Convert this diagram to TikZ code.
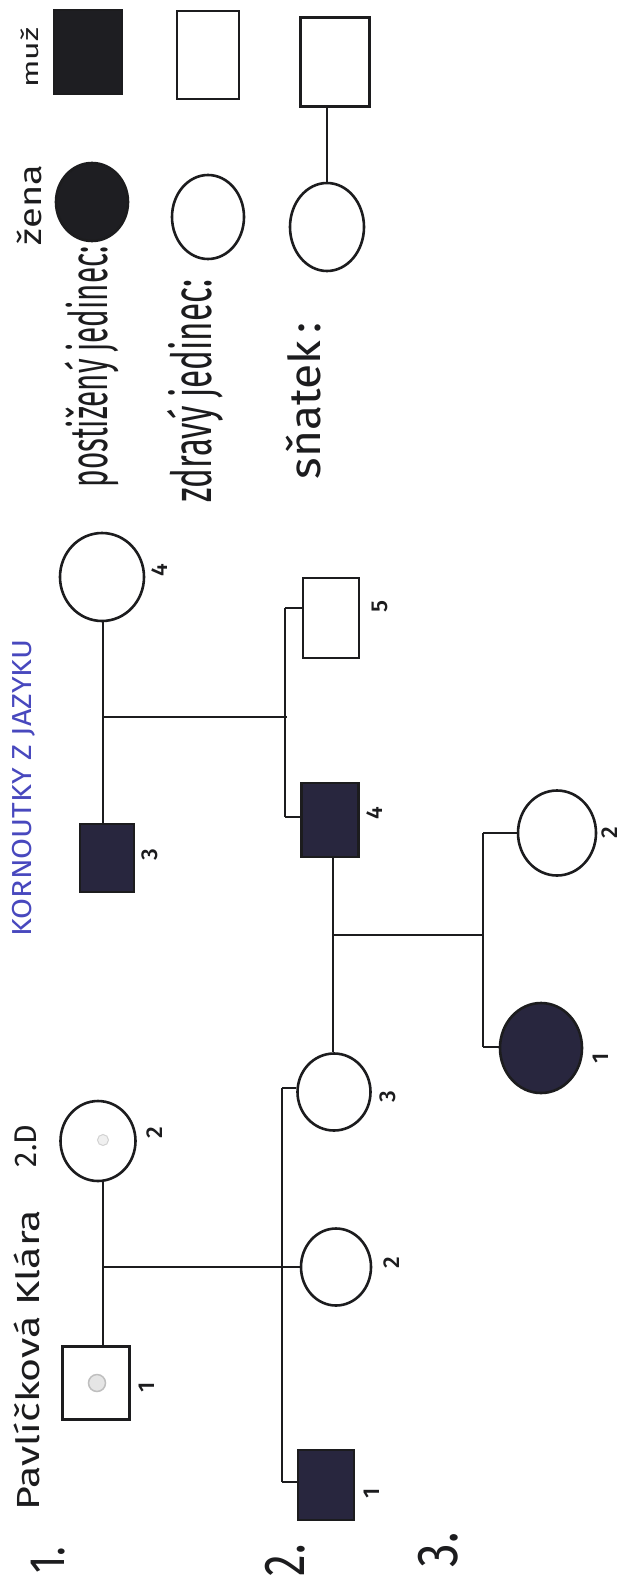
\documentclass[tikz,border=0pt]{standalone}
\usepackage{fontspec}
\IfFontExistsTF{Fira Sans Book}{\setmainfont{Fira Sans Book}}{\setmainfont{Fira Sans}}
\IfFontExistsTF{Fira Sans Medium}{\newfontfamily\numfont{Fira Sans Medium}}{\newfontfamily\numfont{Fira Sans}}
\usepackage{graphicx}
\usetikzlibrary{shapes.geometric}

\definecolor{ink}{RGB}{28,28,30}
\definecolor{affected}{RGB}{40,38,62}
\definecolor{legendfill}{RGB}{30,30,34}
\definecolor{bluepen}{RGB}{72,72,190}

% stretch a handwritten-looking label to a given length and total height
\newcommand{\handtext}[3]{\resizebox*{#1}{#2}{#3}}

\tikzset{
  male/.style={draw=ink, line width=2.6pt, rectangle, inner sep=0pt},
  female/.style={draw=ink, line width=2.6pt, ellipse, inner sep=0pt},
  sick/.style={fill=affected},
  link/.style={draw=ink, line width=1.9pt},
  mateline/.style={draw=ink, line width=1.4pt},
  idlabel/.style={text=ink, rotate=90, inner sep=0pt, font=\numfont\fontsize{23}{23}\selectfont},
  hand/.style={text=ink, rotate=90, inner sep=0pt},
  faintdot/.style={circle, inner sep=0pt, fill=gray!20, draw=gray!50},
}

\begin{document}
\begin{tikzpicture}[x=1pt, y=-1pt]
\path[use as bounding box, fill=white] (0,0) rectangle (624,1586);

% ---------------- key ----------------
\node[hand] (tmuz)  at (30,58)   {\handtext{60pt}{18pt}{muž}};
\node[hand] (tzena) at (29,205)  {\handtext{80pt}{25pt}{žena}};
\node[hand] (tpost) at (92,367)  {\handtext{241pt}{54pt}{postižený jedinec:}};
\node[hand] (tzdr)  at (195,391) {\handtext{223pt}{56pt}{zdravý jedinec:}};
\node[hand] (tsn)   at (304,401) {\handtext{157pt}{35pt}{sňatek\,:}};

\node[male, fill=legendfill, minimum width=68pt, minimum height=84pt] (keysickm) at (88,52) {};
\node[male, minimum width=62pt, minimum height=88pt] (keyokm) at (208,55) {};
\node[male, minimum width=69pt, minimum height=89pt] (keymatem) at (335,62) {};
\node[female, fill=legendfill, minimum width=72pt, minimum height=78pt] (keysickw) at (92,202) {};
\node[female, minimum width=72pt, minimum height=84pt] (keyokw) at (208,217) {};
\node[female, minimum width=74pt, minimum height=88pt] (keymatew) at (327,227) {};
\draw[link] (keymatew.north) -- (keymatew.north |- keymatem.south);

% ---------------- headings ----------------
\node[hand, text=bluepen] (ttopic) at (24,788) {\handtext{297pt}{23pt}{KORNOUTKY Z JAZYKU}};
\node[hand] (tname)  at (27,1360) {\handtext{300pt}{26pt}{Pavlíčková Klára}};
\node[hand] (tclass) at (26,1146) {\handtext{42pt}{22pt}{2.D}};
\node[hand] (tgen1)  at (48,1560)  {\handtext{27pt}{34pt}{1.}};
\node[hand] (tgen2)  at (285,1560) {\handtext{32pt}{40pt}{2.}};
\node[hand] (tgen3)  at (438,1550) {\handtext{35pt}{40pt}{3.}};

% ---------------- generation I ----------------
\node[male, minimum width=67pt, minimum height=73pt] (i1) at (96,1383) {};
\node[female, minimum width=75pt, minimum height=80pt] (i2) at (98,1141) {};
\node[male, sick, minimum width=54pt, minimum height=68pt] (i3) at (107,858) {};
\node[female, minimum width=84pt, minimum height=88pt] (i4) at (102,577) {};
\node[faintdot, minimum size=17pt, line width=1.5pt] (dot1) at (97,1383) {};
\node[faintdot, minimum size=11pt, line width=1pt, fill=gray!12, draw=gray!35] (dot2) at (103,1140) {};

% ---------------- generation II ----------------
\node[male, sick, minimum width=56pt, minimum height=70pt] (ii1) at (326,1485) {};
\node[female, minimum width=70pt, minimum height=77pt] (ii2) at (336,1267) {};
\node[female, minimum width=73pt, minimum height=77pt] (ii3) at (334,1092) {};
\node[male, sick, minimum width=57pt, minimum height=74pt] (ii4) at (330,820) {};
\node[male, minimum width=56pt, minimum height=80pt] (ii5) at (331,618) {};

% ---------------- generation III ----------------
\node[female, sick, minimum width=82pt, minimum height=90pt] (iii1) at (541,1048) {};
\node[female, minimum width=78pt, minimum height=85pt] (iii2) at (557,833) {};

% ---------------- numbers ----------------
\node[idlabel] (n11) at (147,1387) {1};
\node[idlabel] (n12) at (155,1133) {2};
\node[idlabel] (n13) at (150,855)  {3};
\node[idlabel] (n14) at (160,570)  {4};
\node[idlabel] (n21) at (372,1493) {1};
\node[idlabel] (n22) at (392,1263) {2};
\node[idlabel] (n23) at (388,1097) {3};
\node[idlabel] (n24) at (375,813)  {4};
\node[idlabel] (n25) at (380,607)  {5};
\node[idlabel] (n31) at (601,1058) {1};
\node[idlabel] (n32) at (610,833)  {2};

% ---------------- family I-1 x I-2 ----------------
\coordinate (mA) at (103,1267);
\coordinate (sA) at (282,1267);
\coordinate (sAtop) at (282,1088);
\coordinate (sAbot) at (282,1482);
\draw[link] (i2.south -| mA) -- (i1.north -| mA);
\draw[mateline] (mA) -- (sA);
\draw[link] (sAtop) -- (sAbot);
\draw[link] (sAtop) -- (sAtop -| ii3.west);
\draw[link] (sA) -- (sA -| ii2.west);
\draw[link] (sAbot) -- (sAbot -| ii1.west);

% ---------------- family I-3 x I-4 ----------------
\coordinate (mB) at (103,717);
\coordinate (sB) at (287,717);
\coordinate (sBtop) at (285,608);
\coordinate (sBbot) at (285,817);
\draw[link] (i4.south -| mB) -- (i3.north -| mB);
\draw[mateline] (mB) -- (sB);
\draw[link] (sBtop) -- (sBbot);
\draw[link] (sBtop) -- (sBtop -| ii5.west);
\draw[link] (sBbot) -- (sBbot -| ii4.west);

% ---------------- family II-3 x II-4 ----------------
\coordinate (mC) at (333,935);
\coordinate (sC) at (483,935);
\coordinate (sCtop) at (483,833);
\coordinate (sCbot) at (483,1047);
\draw[link] (ii4.south -| mC) -- (ii3.north -| mC);
\draw[mateline] (mC) -- (sC);
\draw[link] (sCtop) -- (sCbot);
\draw[link] (sCtop) -- (sCtop -| iii2.west);
\draw[link] (sCbot) -- (sCbot -| iii1.west);
\end{tikzpicture}
\end{document}
